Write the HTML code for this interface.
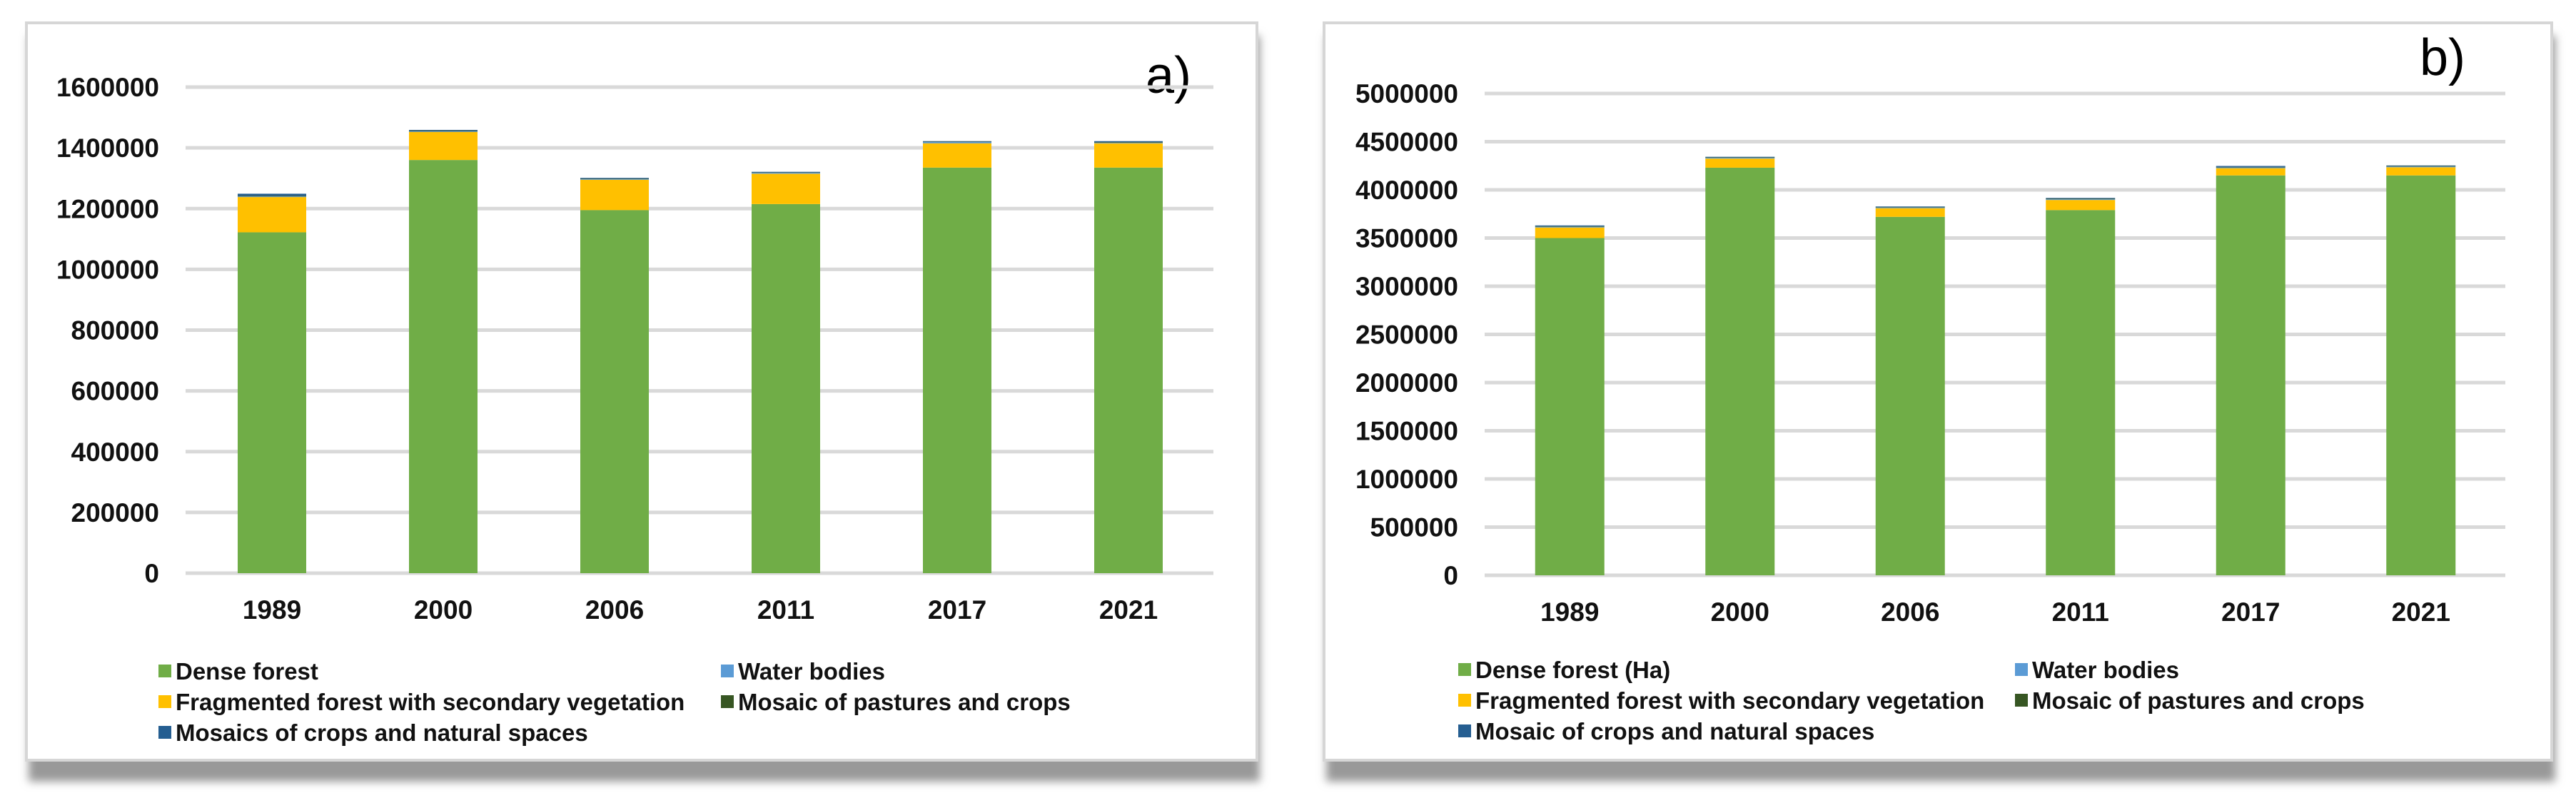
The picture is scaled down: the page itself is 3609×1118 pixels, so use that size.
<!DOCTYPE html>
<html><head><meta charset="utf-8"><style>
html,body{margin:0;padding:0;background:#fff;}
svg{display:block;font-family:"Liberation Sans",Arial,sans-serif;}
</style></head><body>
<svg id="chart" width="3609" height="1118" viewBox="0 0 3609 1118" xmlns="http://www.w3.org/2000/svg">
<defs>
<filter id="sh" x="-5%" y="-5%" width="110%" height="115%"><feGaussianBlur stdDeviation="6"/></filter>
</defs>
<g>
<rect x="40" y="50" width="1725" height="1045" fill="#999" filter="url(#sh)"/>
<rect x="37" y="32" width="1724" height="1033" fill="#fff" stroke="#d6d6d6" stroke-width="4"/>
</g>
<g>
<rect x="1858" y="50" width="1722" height="1045" fill="#999" filter="url(#sh)"/>
<rect x="1855" y="32" width="1720" height="1033" fill="#fff" stroke="#d6d6d6" stroke-width="4"/>
</g>
<text x="1605" y="130" font-size="72">a)</text>
<text x="3390" y="105" font-size="72">b)</text>
<g id="ga"></g><g id="gb"></g>
</svg>
<script>
const years = ["1989","2000","2006","2011","2017","2021"];
const seriesNames = ["Dense forest","Fragmented forest with secondary vegetation","Water bodies","Mosaic of pastures and crops","Mosaics of crops and natural spaces"];
const seriesColors = ["#70ad47","#ffc000","#5b9bd5","#375623","#255e91"];
const aDense = [1122000,1360000,1195000,1215000,1335000,1335000];
const aFrag = [116000,92000,100000,100000,80000,80000];
const aWater = [2000,2000,2000,3000,4000,2000];
const aPast = [2000,2000,1000,1000,1000,2000];
const aMosaic = [7000,3000,3000,2000,2000,3000];
const aTicks = [0,200000,400000,600000,800000,1000000,1200000,1400000,1600000];
const bDense = [3500000,4230000,3720000,3790000,4150000,4150000];
const bFrag = [110000,95000,90000,105000,75000,85000];
const bWater = [8000,8000,8000,8000,8000,8000];
const bPast = [5000,5000,5000,5000,5000,5000];
const bMosaic = [8000,5000,5000,8000,10000,5000];
const bTicks = [0,500000,1000000,1500000,2000000,2500000,3000000,3500000,4000000,4500000,5000000];
const NS="http://www.w3.org/2000/svg";
function mk(g,tag,attrs,txt){const e=document.createElementNS(NS,tag);for(const k in attrs)e.setAttribute(k,attrs[k]);if(txt!==undefined)e.textContent=txt;g.appendChild(e);return e;}
function draw(gid,cfg){
  const g=document.getElementById(gid);
  const y=v=>cfg.y0-(v/cfg.max)*(cfg.y0-cfg.yTop);
  const xc=i=>cfg.x0+cfg.step*(i+0.5);
  cfg.ticks.forEach(t=>{
    const l=mk(g,'rect',{x:cfg.gx0,y:y(t)-2.5,width:cfg.gx1-cfg.gx0,height:5,fill:'#d9d9d9'});
    
    
    const tx=mk(g,'text',{x:cfg.lx,y:y(t)+13,'text-anchor':'end','font-size':37,'font-weight':'bold',fill:'#111'},String(t));
    
    
  });
  const series=cfg.series;
  years.forEach((yr,i)=>{
    let acc=0;
    series.forEach((s,k)=>{
      const v=s[i];
      const r=mk(g,'rect',{x:xc(i)-cfg.bw/2,y:y(acc+v),width:cfg.bw,height:Math.max(y(acc)-y(acc+v),0),fill:seriesColors[k]});
      
      
      acc+=v;
    });
    const t=mk(g,'text',{x:xc(i),y:cfg.y0+64,'text-anchor':'middle','font-size':37,'font-weight':'bold',fill:'#111'},yr);
    
    
  });
  const pos=[[0,0],[0,1],[1,0],[1,1],[2,0]];
  const order=[0,2,1,3,4];
  order.forEach((k,j)=>{
    const row=pos[j][0],col=pos[j][1];
    const mx=col?cfg.legX2:cfg.legX1, my=cfg.legY+row*43;
    const m=mk(g,'rect',{x:mx,y:my-9,width:18,height:18,fill:seriesColors[k]});
    
    
    const t=mk(g,'text',{x:mx+24,y:my+12,'font-size':33,'font-weight':'bold',fill:'#111'},cfg.names[k]);
    
    
  });
}
draw('ga',{y0:803,yTop:122,max:1600000,x0:261,step:240,bw:96,gx0:260,gx1:1700,lx:223,ticks:aTicks,
  series:[aDense,aFrag,aWater,aPast,aMosaic],names:seriesNames,legX1:222,legX2:1010,legY:940});
draw('gb',{y0:806,yTop:131,max:5000000,x0:2080,step:238.5,bw:97,gx0:2080,gx1:3510,lx:2043,ticks:bTicks,
  series:[bDense,bFrag,bWater,bPast,bMosaic],names:["Dense forest (Ha)","Fragmented forest with secondary vegetation","Water bodies","Mosaic of pastures and crops","Mosaic of crops and natural spaces"],legX1:2043,legX2:2823,legY:938});
</script>
</body></html>
